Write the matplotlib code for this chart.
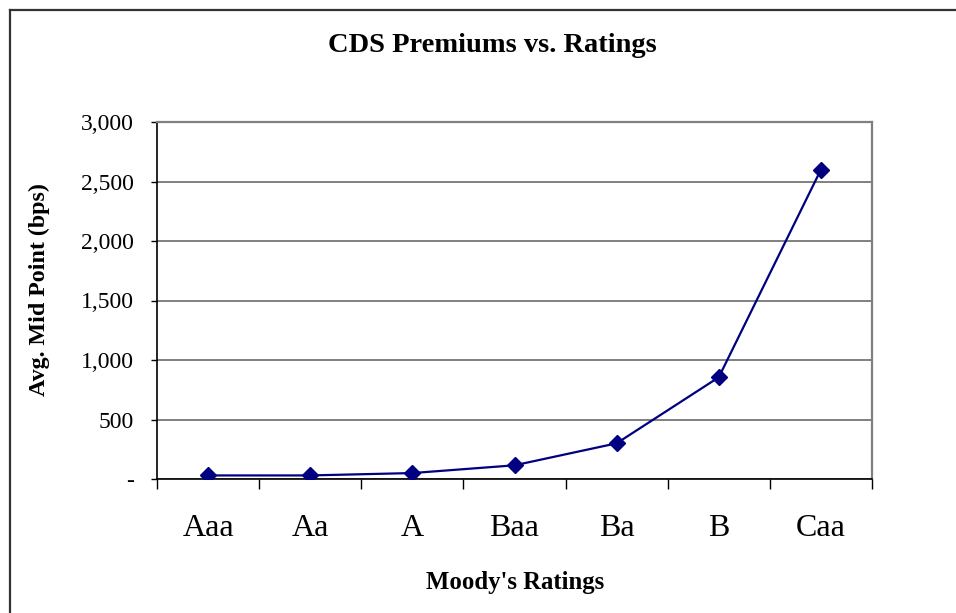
import matplotlib
matplotlib.use("Agg")
import matplotlib.pyplot as plt
from matplotlib.lines import Line2D
import numpy as np

categories = ["Aaa", "Aa", "A", "Baa", "Ba", "B", "Caa"]
values = [30, 30, 50, 115, 300, 855, 2600]
yticks = [0, 500, 1000, 1500, 2000, 2500, 3000]
ytick_labels = ["-", "500", "1,000", "1,500", "2,000", "2,500", "3,000"]

plt.rcParams['font.family'] = ['Liberation Serif', 'DejaVu Serif']

fig = plt.figure(figsize=(9.56, 6.13), dpi=100)
fig.patch.set_facecolor("white")

# outer chart border (left and top visible)
fig.add_artist(Line2D([10/956, 10/956], [0, 1 - 10/613], transform=fig.transFigure,
                      color="#333333", lw=1.6))
fig.add_artist(Line2D([10/956, 1], [1 - 10/613, 1 - 10/613], transform=fig.transFigure,
                      color="#333333", lw=1.6))

ax = fig.add_axes([157/956, 1 - 479/613, (872 - 157)/956, (479 - 122)/613])
x = np.arange(len(categories))
ax.plot(x, values, color="#000080", lw=1.6, marker="D", markersize=8,
        markerfacecolor="#000080", markeredgecolor="#000080", zorder=3)

ax.set_xlim(-0.5, len(categories) - 0.5)
ax.set_ylim(0, 3000)
ax.set_yticks(yticks)
ax.set_yticklabels(ytick_labels, fontsize=17)
ax.yaxis.grid(True, color="#808080", lw=1.4)
ax.set_axisbelow(True)

ax.set_xticks(np.arange(-0.5, len(categories)), minor=False)
ax.set_xticklabels([])
ax.set_xticks(x, minor=True)
ax.set_xticklabels(categories, minor=True, fontsize=23)
ax.tick_params(axis="x", which="major", direction="out", length=7.5, width=1, color="black")
ax.tick_params(axis="x", which="minor", length=0, pad=25)
ax.tick_params(axis="y", direction="out", length=4, width=1, color="black", pad=12.5)

for s in ["top", "right"]:
    ax.spines[s].set_color("#808080")
    ax.spines[s].set_linewidth(1.6)
for s in ["left", "bottom"]:
    ax.spines[s].set_color("black")
    ax.spines[s].set_linewidth(1.2)

fig.text(492/956, 1 - 45/613, "CDS Premiums vs. Ratings", ha="center", va="center",
         fontsize=20.5, fontweight="bold")
fig.text(515/956, 1 - 582/613, "Moody's Ratings", ha="center", va="center",
         fontsize=17.8, fontweight="bold")
fig.text(39/956, 1 - 290/613, "Avg. Mid Point (bps)", ha="center", va="center",
         rotation=90, fontsize=17.3, fontweight="bold")

fig.savefig("out.png", dpi=100, facecolor="white")
